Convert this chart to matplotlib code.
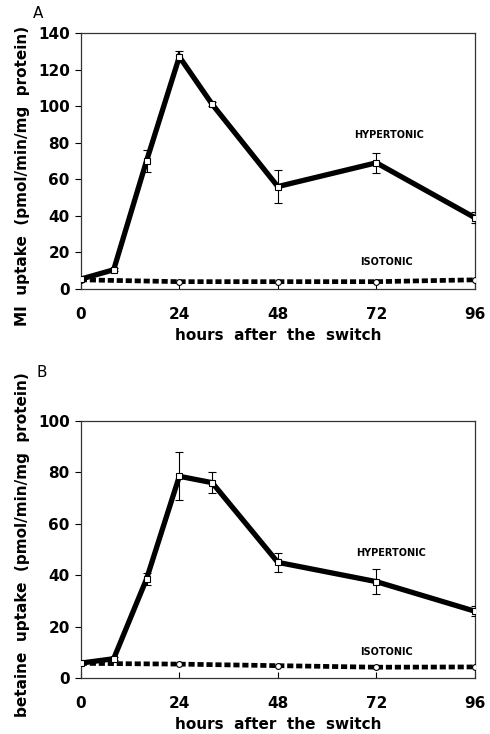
import matplotlib
matplotlib.use('Agg')
import matplotlib.pyplot as plt

# Sampling times (hours after the switch)
hours_hyper = [0, 8, 16, 24, 32, 48, 72, 96]
hours_iso = [0, 24, 48, 72, 96]

# A: MI uptake (pmol/min/mg protein)
mi_hyper = [5.4, 10.5, 70, 127, 101, 56, 69, 39]
mi_hyper_err = [0.5, 0.8, 6, 3, 1, 9, 5.5, 3]
mi_iso = [5, 4, 4, 4, 5]

# B: betaine uptake (pmol/min/mg protein)
bet_hyper = [5.8, 7.5, 38.5, 78.5, 76, 45, 37.5, 26]
bet_hyper_err = [0.4, 0.5, 2.3, 9.4, 4, 3.6, 5, 2]
bet_iso = [5.7, 5.4, 4.8, 4.2, 4.3]

x_ticks = [0, 24, 48, 72, 96]

plt.rcParams['font.family'] = 'DejaVu Sans'

fig = plt.figure(figsize=(4.9, 7.34), dpi=100)
ax_a = fig.add_axes([0.165, 0.6063, 0.804, 0.3488])
ax_b = fig.add_axes([0.165, 0.0763, 0.804, 0.3501])


def draw_panel(ax, hyper, hyper_err, iso, ymax, ystep, ylabel, label_y,
               hyper_pos, iso_pos):
    # isotonic: thick dashed line with open circles
    ax.plot(hours_iso, iso, color='black', lw=3.4, linestyle=(0, (1.3, 0.6)),
            dash_capstyle='butt', zorder=2)
    ax.plot(hours_iso, iso, linestyle='none', marker='o', ms=4.2,
            mfc='white', mec='black', mew=0.8, zorder=4)
    # hypertonic: thick solid line with open squares and error bars
    ax.errorbar(hours_hyper, hyper, yerr=hyper_err, fmt='none', ecolor='black',
                elinewidth=0.8, capsize=3, capthick=0.8, zorder=3)
    ax.plot(hours_hyper, hyper, color='black', lw=3.8, solid_joinstyle='miter',
            zorder=3)
    ax.plot(hours_hyper, hyper, linestyle='none', marker='s', ms=4.2,
            mfc='white', mec='black', mew=0.8, zorder=5)

    ax.text(hyper_pos[0], hyper_pos[1], 'HYPERTONIC', fontsize=7,
            fontweight='bold', ha='center', va='center')
    ax.text(iso_pos[0], iso_pos[1], 'ISOTONIC', fontsize=7,
            fontweight='bold', ha='center', va='center')

    ax.set_xlim(0, 96)
    ax.set_ylim(0, ymax)
    ax.set_xticks(x_ticks)
    ax.set_yticks(range(0, ymax + 1, ystep))
    ax.tick_params(axis='x', direction='in', length=4, width=0.8, pad=13,
                   labelsize=11)
    ax.tick_params(axis='y', direction='out', length=4, width=0.8, pad=4,
                   labelsize=11)
    for lbl in ax.get_xticklabels() + ax.get_yticklabels():
        lbl.set_fontweight('bold')
    for sp in ax.spines.values():
        sp.set_linewidth(0.9)
        sp.set_color('#333333')
    ax.set_xlabel('hours  after  the  switch', fontsize=11, fontweight='bold',
                  labelpad=4)
    ax.set_ylabel(ylabel, fontsize=11, fontweight='bold', labelpad=6,
                  y=label_y)


draw_panel(ax_a, mi_hyper, mi_hyper_err, mi_iso, 140, 20,
           'MI  uptake  (pmol/min/mg  protein)', 0.44, (75, 84), (74.5, 14.5))
draw_panel(ax_b, bet_hyper, bet_hyper_err, bet_iso, 100, 20,
           'betaine  uptake  (pmol/min/mg  protein)', 0.52, (75.5, 48.5),
           (74.5, 10))

fig.text(0.078, 0.981, 'A', fontsize=11, ha='center', va='center')
fig.text(0.086, 0.492, 'B', fontsize=11, ha='center', va='center')

fig.savefig('out.png', dpi=100)
